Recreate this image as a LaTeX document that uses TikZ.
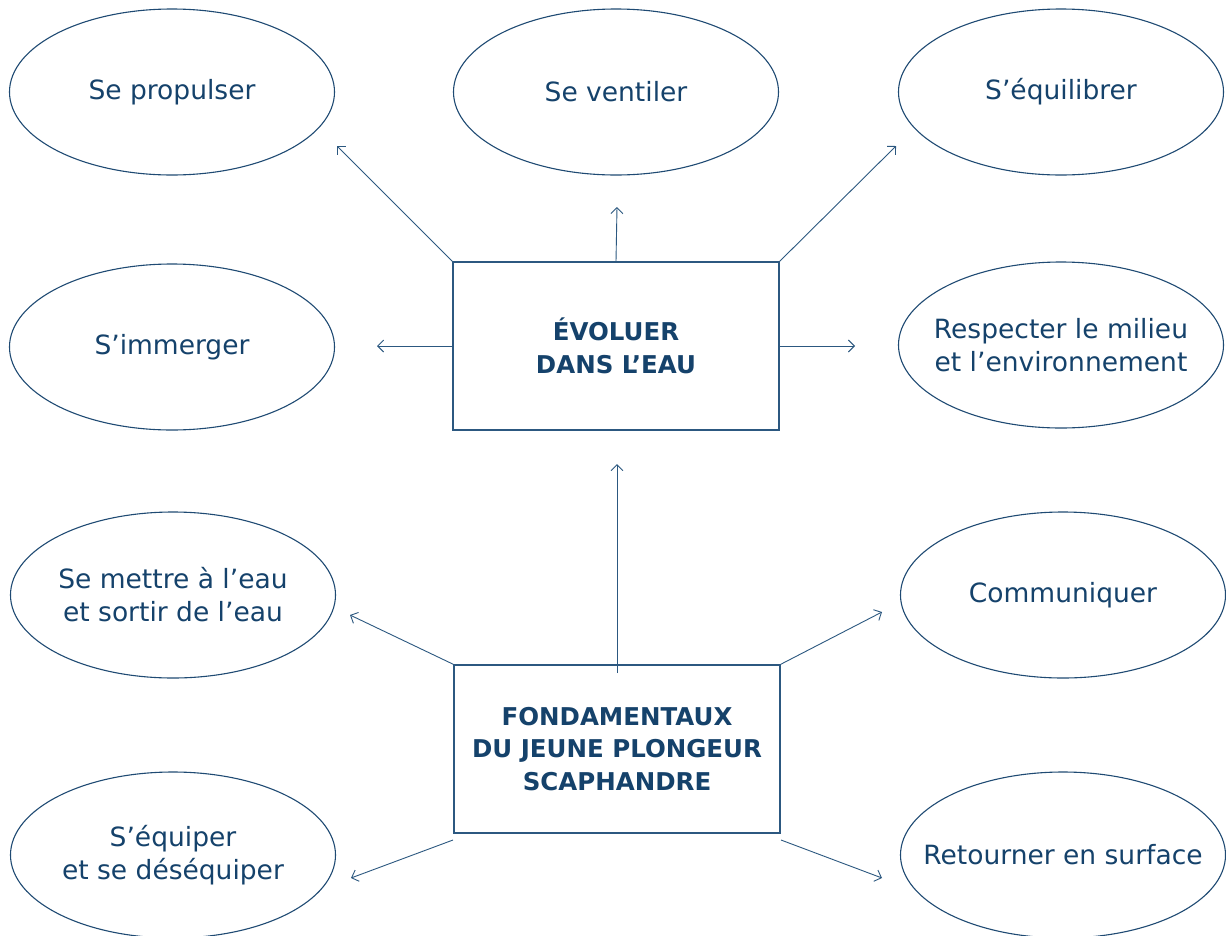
\documentclass[tikz,border=0pt]{standalone}
\usepackage{fontspec}
\setmainfont{DejaVu Sans}
\usetikzlibrary{shapes.geometric,arrows.meta}
\definecolor{txt}{HTML}{15426B}
\definecolor{ln}{HTML}{2C5880}
\definecolor{ell}{HTML}{1F4A73}
\tikzset{
  bub/.style={ellipse, draw=ell, line width=1.1pt, inner sep=0pt, minimum width=325pt, minimum height=166pt},
  lbl/.style={text=txt, font=\fontsize{26.5}{33}\selectfont, align=center, inner sep=0pt},
  cbox/.style={rectangle, draw=ln, line width=1.4pt, inner sep=0pt, minimum width=326pt, minimum height=168pt,
    text=txt, font=\fontsize{24.5}{32.5}\selectfont\bfseries, align=center},
  conn/.style={draw=ln, line width=0.9pt, -{Straight Barb[length=6pt,width=12pt,line width=0.9pt]}}
}
\begin{document}
\begin{tikzpicture}[x=1pt,y=-1pt]
\useasboundingbox (0,0) rectangle (1226,935);
\clip (0,0) rectangle (1226,935);
\fill[white] (0,0) rectangle (1226,935);
% ellipses
\node[bub] (prop) at (172,92) {};
\node[bub] (vent) at (616,92) {};
\node[bub] (equi) at (1061,92) {};
\node[bub] (imm) at (172,347) {};
\node[bub] (resp) at (1061,345) {};
\node[bub] (mett) at (173,595) {};
\node[bub] (comm) at (1063,595) {};
\node[bub] (eqp) at (173,855) {};
\node[bub] (ret) at (1063,855) {};
% labels
\node[lbl] (tprop) at (prop) {Se propulser};
\node[lbl] (tvent) at (vent) {Se ventiler};
\node[lbl] (tequi) at (equi) {S’équilibrer};
\node[lbl] (timm) at (imm) {S’immerger};
\node[lbl] (tresp) at (resp) {Respecter le milieu\\et l’environnement};
\node[lbl] (tmett) at (mett) {Se mettre à l’eau\\et sortir de l’eau};
\node[lbl] (tcomm) at (comm) {Communiquer};
\node[lbl] (teqp) at (eqp) {S’équiper\\et se déséquiper};
\node[lbl] (tret) at (ret) {Retourner en surface};
% boxes
\node[cbox] (evo) at (616,346) {ÉVOLUER\\DANS L’EAU};
\node[cbox] (fond) at (617,749) {FONDAMENTAUX\\DU JEUNE PLONGEUR\\SCAPHANDRE};
% arrow ends
\coordinate (a1) at (337,146);
\coordinate (a2) at (617,207);
\coordinate (a3) at (896,146);
\coordinate (a4) at (377,346);
\coordinate (a5) at (855,346);
\coordinate (b0s) at (617,673);
\coordinate (b0) at (617,464);
\coordinate (b1) at (350,615);
\coordinate (b2) at (882,612);
\coordinate (b3) at (351,878);
\coordinate (b4) at (882,878);
\coordinate (b3s) at (453,840);
\coordinate (b4s) at (781,840);
% connectors
\draw[conn] (evo.north west) -- (a1);
\draw[conn] (evo.north) -- (a2);
\draw[conn] (evo.north east) -- (a3);
\draw[conn] (evo.west) -- (a4);
\draw[conn] (evo.east) -- (a5);
\draw[conn] (b0s) -- (b0);
\draw[conn] (fond.north west) -- (b1);
\draw[conn] (fond.north east) -- (b2);
\draw[conn] (b3s) -- (b3);
\draw[conn] (b4s) -- (b4);
\end{tikzpicture}
\end{document}
